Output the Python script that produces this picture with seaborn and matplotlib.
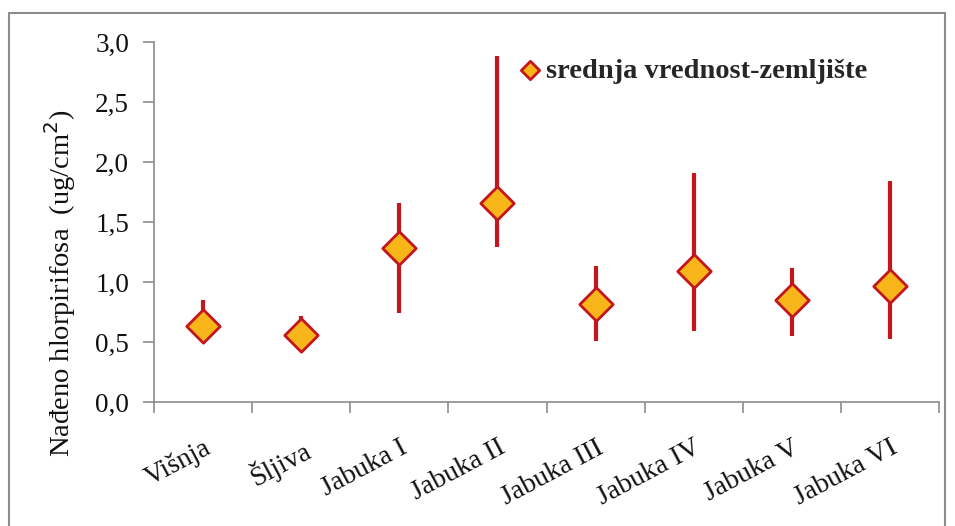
import matplotlib.pyplot as plt
import pandas as pd
import seaborn as sns
from matplotlib.patches import Rectangle

# Data
categories = ["Višnja", "Šljiva", "Jabuka I", "Jabuka II", "Jabuka III",
              "Jabuka IV", "Jabuka V", "Jabuka VI"]
mean_vals = [0.63, 0.555, 1.28, 1.66, 0.82, 1.09, 0.85, 0.97]
min_vals = [0.52, 0.46, 0.74, 1.29, 0.51, 0.59, 0.55, 0.525]
max_vals = [0.85, 0.72, 1.66, 2.88, 1.13, 1.91, 1.12, 1.84]
y_ticks = [0.0, 0.5, 1.0, 1.5, 2.0, 2.5, 3.0]
y_tick_labels = ["0,0", "0,5", "1,0", "1,5", "2,0", "2,5", "3,0"]

df = pd.DataFrame({"kategorija": categories, "srednja": mean_vals,
                   "min": min_vals, "max": max_vals})

sns.set_theme(style="white")
plt.rcParams["font.family"] = ["Liberation Serif", "DejaVu Serif"]

LINE_RED = "#C3161D"
DIAMOND = "#F8B51A"
GREY = "#8c8c8c"

fig = plt.figure(figsize=(9.55, 5.26), dpi=100)
ax = fig.add_axes([0.1613, 0.2357, 0.822, 0.6844])

# outer chart frame
fig.patches.append(Rectangle((9 / 955, -0.1), 936 / 955, 1.1 - 13 / 526,
                             transform=fig.transFigure, fill=False,
                             edgecolor=GREY, linewidth=1.5))

# range lines
ax.vlines(df["kategorija"], df["min"], df["max"], color=LINE_RED,
          linewidth=3, zorder=2)

sns.scatterplot(data=df, x="kategorija", y="srednja", marker="D", s=290,
                color=DIAMOND, edgecolor=LINE_RED, linewidth=2,
                label="srednja vrednost-zemljište", zorder=3, ax=ax)

ax.set_xlim(-0.5, len(categories) - 0.5)
ax.set_ylim(0, 3.0)
ax.set_yticks(y_ticks)
ax.set_yticklabels(y_tick_labels, fontsize=19.5, color="#111111")
ax.tick_params(axis="y", direction="out", length=8, width=1.2,
               color=GREY, pad=10, left=True)

ax.set_xticks(range(len(categories)))
ax.set_xticklabels(categories, rotation=28, ha="right",
                   rotation_mode="anchor", fontsize=20, color="#111111")
ax.tick_params(axis="x", which="major", length=0, pad=24)
ax.set_xticks([i - 0.5 for i in range(len(categories) + 1)], minor=True)
ax.tick_params(axis="x", which="minor", direction="out", length=8,
               width=1.2, color=GREY, bottom=True)

for side in ["top", "right"]:
    ax.spines[side].set_visible(False)
for side in ["left", "bottom"]:
    ax.spines[side].set_color(GREY)
    ax.spines[side].set_linewidth(1.2)

ax.set_xlabel("")
ax.set_ylabel("Nađeno hlorpirifosa  (ug/cm$^2$)", fontsize=20.5,
              color="#111111")
ax.yaxis.set_label_coords(-0.097, 0.33)

leg = ax.legend(loc="center left", bbox_to_anchor=(0.465, 0.92),
                frameon=False, handlelength=0.8, handletextpad=0.15,
                borderaxespad=0, borderpad=0, markerscale=0.55,
                prop={"family": "Liberation Serif", "weight": "bold",
                      "size": 20.5})

fig.savefig("out.png", dpi=100, facecolor="white")
